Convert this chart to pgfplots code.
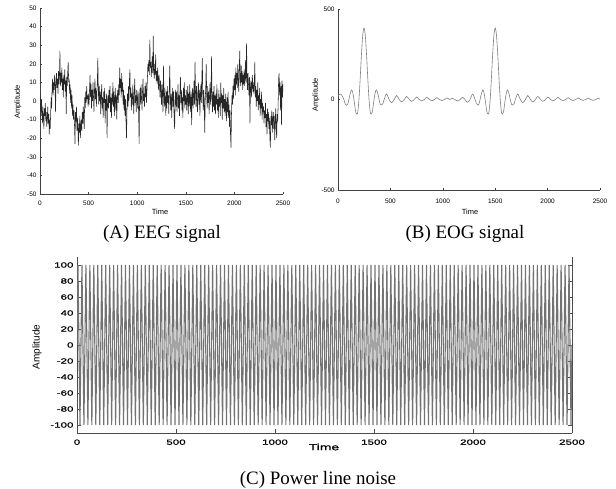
\documentclass[border=0pt]{standalone}
\usepackage{fontspec}
\setmainfont{Liberation Sans}
\newfontfamily\capfont{Liberation Serif}
\newfontfamily\widefont[FakeStretch=1.55,FakeBold=0.8]{Liberation Sans}
\usepackage{pgfplots}
\pgfplotsset{compat=1.18}
\pgfplotsset{
  smallax/.style={
    scale only axis, anchor=south west,
    xmin=0, xmax=2500, xtick={0,500,...,2500},
    axis x line*=bottom, axis y line*=left,
    axis line style={black!75, line width=0.5bp, -},
    tick style={black!75, line width=0.4bp},
    major tick length=2bp, tick align=inside,
    tick label style={font=\fontsize{6.5}{7}\selectfont},
    /pgf/number format/assume math mode=true,
    /pgf/number format/set thousands separator={},
  }
}
\begin{document}
\begin{tikzpicture}
\useasboundingbox (0,0) rectangle (616bp,-489bp);
% (A) EEG
\begin{axis}[smallax, at={(40bp,-194bp)}, width=243bp, height=186bp,
  ymin=-50, ymax=50, ytick={-50,-40,...,50},
  xticklabel style={yshift=-3bp}]
\addplot[black!85, line width=0.55bp] coordinates {
(0,4)(5,-2)(10,-8)(15,1)(20,-5)(25,-12)(30,-3)(35,-9)(40,-15)(45,-4)(50,-8)(55,-1)(60,-11)(65,-6)(70,-14)(75,-9)(80,-3)(85,-12)(90,-7)(95,-18)
(100,-10)(105,-15)(110,-6)(115,2)(120,-4)(125,8)(130,12)(135,3)(140,10)(145,6)(150,14)(155,8)(160,-6)(165,11)(170,15)(175,7)(180,12)(185,4)(190,16)(195,9)
(200,13)(205,27)(210,8)(215,15)(220,10)(225,18)(230,6)(235,12)(240,2)(245,14)(250,9)(255,17)(260,5)(265,11)(270,-7)(275,13)(280,8)(285,15)(290,21)(295,10)
(300,12)(305,4)(310,9)(315,-1)(320,6)(325,-4)(330,3)(335,-8)(340,-2)(345,-10)(350,-5)(355,-13)(360,-23)(365,-6)(370,-11)(375,-3)(380,-16)(385,-9)(390,-14)(395,-24)
(400,-12)(405,-17)(410,-8)(415,-20)(420,-14)(425,-10)(430,-16)(435,-6)(440,-12)(445,-3)(450,-9)(455,-15)(460,2)(465,-4)(470,5)(475,-1)(480,8)(485,1)(490,3)(495,-3)
(500,4)(505,-2)(510,7)(515,14)(520,2)(525,9)(530,-4)(535,6)(540,0)(545,10)(550,3)(555,-6)(560,5)(565,12)(570,1)(575,7)(580,-3)(585,4)(590,10)(595,23)
(600,6)(605,-2)(610,8)(615,0)(620,5)(625,-7)(630,3)(635,9)(640,-4)(645,2)(650,-9)(655,5)(660,-1)(665,7)(670,-12)(675,1)(680,-5)(685,4)(690,-20)(695,0)
(700,3)(705,-4)(710,6)(715,-1)(720,8)(725,-6)(730,2)(735,-9)(740,4)(745,-2)(750,10)(755,-3)(760,5)(765,-8)(770,1)(775,7)(780,-5)(785,3)(790,-10)(795,2)
(800,6)(805,-1)(810,9)(815,3)(820,18)(825,7)(830,12)(835,2)(840,15)(845,5)(850,10)(855,-2)(860,6)(865,-5)(870,3)(875,-8)(880,1)(885,-11)(890,-20)(895,-4)
(900,4)(905,-3)(910,8)(915,0)(920,11)(925,17)(930,2)(935,7)(940,-5)(945,4)(950,-2)(955,9)(960,1)(965,-7)(970,5)(975,12)(980,-1)(985,3)(990,-6)(995,6)
(1000,2)(1005,-4)(1010,5)(1015,-8)(1020,-23)(1025,3)(1030,7)(1035,-2)(1040,9)(1045,1)(1050,-5)(1055,6)(1060,12)(1065,0)(1070,4)(1075,-3)(1080,8)(1085,2)(1090,10)(1095,-1)
(1100,5)(1105,12)(1110,20)(1115,16)(1120,22)(1125,14)(1130,33)(1135,18)(1140,21)(1145,13)(1150,19)(1155,24)(1160,15)(1165,35)(1170,17)(1175,12)(1180,20)(1185,14)(1190,25)(1195,11)
(1200,16)(1205,9)(1210,18)(1215,12)(1220,6)(1225,14)(1230,8)(1235,2)(1240,11)(1245,5)(1250,-2)(1255,9)(1260,3)(1265,-6)(1270,19)(1275,4)(1280,-3)(1285,7)(1290,0)(1295,-8)
(1300,5)(1305,-4)(1310,8)(1315,-1)(1320,3)(1325,-7)(1330,6)(1335,19)(1340,2)(1345,-5)(1350,4)(1355,-9)(1360,1)(1365,7)(1370,-3)(1375,5)(1380,-10)(1385,-15)(1390,-2)(1395,6)
(1400,-3)(1405,5)(1410,-6)(1415,2)(1420,9)(1425,-4)(1430,3)(1435,-8)(1440,4)(1445,13)(1450,-1)(1455,6)(1460,-5)(1465,2)(1470,-9)(1475,7)(1480,0)(1485,10)(1490,-4)(1495,3)
(1500,-2)(1505,6)(1510,-5)(1515,1)(1520,8)(1525,-7)(1530,4)(1535,-3)(1540,9)(1545,0)(1550,-6)(1555,5)(1560,-13)(1565,2)(1570,7)(1575,-4)(1580,3)(1585,11)(1590,-2)(1595,21)
(1600,4)(1605,-3)(1610,8)(1615,1)(1620,-6)(1625,5)(1630,10)(1635,-2)(1640,6)(1645,-8)(1650,3)(1655,9)(1660,-1)(1665,12)(1670,23)(1675,2)(1680,-5)(1685,6)(1690,-3)(1695,-17)
(1700,1)(1705,7)(1710,20)(1715,3)(1720,-4)(1725,8)(1730,-1)(1735,5)(1740,-7)(1745,4)(1750,10)(1755,-2)(1760,6)(1765,24)(1770,0)(1775,-6)(1780,5)(1785,-3)(1790,8)(1795,-5)
(1800,3)(1805,-7)(1810,4)(1815,-2)(1820,9)(1825,-5)(1830,1)(1835,-9)(1840,6)(1845,-3)(1850,2)(1855,-8)(1860,10)(1865,-1)(1870,4)(1875,-10)(1880,3)(1885,-4)(1890,7)(1895,-6)
(1900,1)(1905,-8)(1910,4)(1915,-3)(1920,-11)(1925,2)(1930,-6)(1935,5)(1940,-9)(1945,-2)(1950,-14)(1955,-5)(1960,-18)(1965,-25)(1970,-7)(1975,3)(1980,-2)(1985,8)(1990,1)(1995,12)
(2000,6)(2005,14)(2010,3)(2015,18)(2020,9)(2025,15)(2030,7)(2035,20)(2040,11)(2045,5)(2050,17)(2055,27)(2060,12)(2065,8)(2070,19)(2075,10)(2080,16)(2085,6)(2090,14)(2095,9)
(2100,17)(2105,8)(2110,13)(2115,22)(2120,10)(2125,31)(2130,12)(2135,6)(2140,15)(2145,9)(2150,3)(2155,13)(2160,-12)(2165,7)(2170,11)(2175,2)(2180,9)(2185,14)(2190,5)(2195,10)
(2200,4)(2205,9)(2210,21)(2215,2)(2220,8)(2225,-3)(2230,6)(2235,0)(2240,10)(2245,-5)(2250,3)(2255,-2)(2260,7)(2265,-8)(2270,1)(2275,-4)(2280,5)(2285,-10)(2290,-1)(2295,-6)
(2300,-3)(2305,-12)(2310,-5)(2315,-9)(2320,-1)(2325,-14)(2330,-7)(2335,-18)(2340,-4)(2345,-11)(2350,-6)(2355,-15)(2360,-9)(2365,-20)(2370,-25)(2375,-8)(2380,-13)(2385,-5)(2390,-17)(2395,-10)
(2400,-6)(2405,-15)(2410,-8)(2415,-21)(2420,-12)(2425,-4)(2430,-14)(2435,-20)(2440,-7)(2445,-11)(2450,-2)(2455,12)(2460,15)(2465,3)(2470,10)(2475,-5)(2480,8)(2485,-13)(2490,11)(2495,2)(2500,9)
};
\end{axis}
% (B) EOG
\begin{axis}[smallax, at={(338bp,-190bp)}, width=262bp, height=181bp,
  ymin=-500, ymax=500, ytick={-500,0,500},
  xticklabel style={yshift=-5bp}]
\addplot[black!50, line width=0.6bp, smooth] coordinates {
(0,20)(10,27)(22,30)(33,28)(45,15)(56,0)(68,-24)(80,-32)(92,-27)(104,0)(116,32)(128,52)(140,40)(152,0)(164,-51)(172,-75)(180,-80)(188,-71)(200,0)
(212,119)(224,251)(236,356)(248,395)(260,356)(272,251)(284,119)(296,0)(308,-71)(317,-80)(326,-71)(332,-51)(344,0)(356,40)(366,53)(380,32)(392,0)
(404,-27)(414,-30)(428,-24)(440,0)(463,30)(488,0)(511,-18)(536,0)(559,22)(584,0)(607,-13)(632,0)(655,17)(680,0)(703,-10)(728,0)(751,14)(776,0)
(799,-8)(824,0)(847,12)(872,0)(895,-7)(920,0)(943,10)(968,0)(991,-6)(1016,0)(1039,9)(1064,0)(1090,6)(1116,0)(1141,-9)(1165,0)(1189,12)(1212,0)
(1237,-16)(1260,0)(1285,30)(1308,0)(1322,-24)(1334,-30)(1344,-27)(1356,0)(1368,32)(1382,53)(1392,40)(1404,0)(1416,-51)(1424,-75)(1432,-80)(1440,-71)(1452,0)
(1464,119)(1476,251)(1488,356)(1500,395)(1512,356)(1524,251)(1536,119)(1548,0)(1560,-71)(1569,-80)(1578,-71)(1584,-51)(1596,0)(1608,40)(1618,53)(1632,32)(1644,0)
(1656,-27)(1666,-30)(1680,-24)(1692,0)(1715,30)(1740,0)(1763,-18)(1788,0)(1811,22)(1836,0)(1859,-13)(1884,0)(1907,17)(1932,0)(1955,-10)(1980,0)
(2003,14)(2028,0)(2051,-8)(2076,0)(2099,12)(2124,0)(2147,-7)(2172,0)(2195,10)(2220,0)(2243,-6)(2268,0)(2291,9)(2316,0)(2339,-5)(2364,0)(2387,8)(2412,0)
(2435,-5)(2460,0)(2483,7)(2500,2)
};
\end{axis}
% (C) Power line noise
\begin{axis}[scale only axis, anchor=south west, at={(77bp,-433bp)}, width=495bp, height=176bp,
  xmin=0, xmax=2500, xtick={0,500,...,2500},
  ymin=-110, ymax=110, ytick={-100,-80,...,100},
  axis x line*=bottom, axis y line*=box,
  axis line style={black!70, line width=0.8bp, -},
  tick style={black!70, line width=0.5bp},
  major tick length=4bp, tick align=inside,
  tick label style={font=\widefont\fontsize{7.5}{8}\selectfont},
  xticklabel style={yshift=-3bp},
  /pgf/number format/assume math mode=true,
  /pgf/number format/set thousands separator={}]
\addplot[black!55, line width=1.1bp] coordinates {
(0,0)
(5,100)(15,-100)(25,100)(35,-100)(45,100)(55,-100)(65,100)(75,-100)(85,100)(95,-100)
(105,100)(115,-100)(125,100)(135,-100)(145,100)(155,-100)(165,100)(175,-100)(185,100)(195,-100)
(205,100)(215,-100)(225,100)(235,-100)(245,100)(255,-100)(265,100)(275,-100)(285,100)(295,-100)
(305,100)(315,-100)(325,100)(335,-100)(345,100)(355,-100)(365,100)(375,-100)(385,100)(395,-100)
(405,100)(415,-100)(425,100)(435,-100)(445,100)(455,-100)(465,100)(475,-100)(485,100)(495,-100)
(505,100)(515,-100)(525,100)(535,-100)(545,100)(555,-100)(565,100)(575,-100)(585,100)(595,-100)
(605,100)(615,-100)(625,100)(635,-100)(645,100)(655,-100)(665,100)(675,-100)(685,100)(695,-100)
(705,100)(715,-100)(725,100)(735,-100)(745,100)(755,-100)(765,100)(775,-100)(785,100)(795,-100)
(805,100)(815,-100)(825,100)(835,-100)(845,100)(855,-100)(865,100)(875,-100)(885,100)(895,-100)
(905,100)(915,-100)(925,100)(935,-100)(945,100)(955,-100)(965,100)(975,-100)(985,100)(995,-100)
(1005,100)(1015,-100)(1025,100)(1035,-100)(1045,100)(1055,-100)(1065,100)(1075,-100)(1085,100)(1095,-100)
(1105,100)(1115,-100)(1125,100)(1135,-100)(1145,100)(1155,-100)(1165,100)(1175,-100)(1185,100)(1195,-100)
(1205,100)(1215,-100)(1225,100)(1235,-100)(1245,100)(1255,-100)(1265,100)(1275,-100)(1285,100)(1295,-100)
(1305,100)(1315,-100)(1325,100)(1335,-100)(1345,100)(1355,-100)(1365,100)(1375,-100)(1385,100)(1395,-100)
(1405,100)(1415,-100)(1425,100)(1435,-100)(1445,100)(1455,-100)(1465,100)(1475,-100)(1485,100)(1495,-100)
(1505,100)(1515,-100)(1525,100)(1535,-100)(1545,100)(1555,-100)(1565,100)(1575,-100)(1585,100)(1595,-100)
(1605,100)(1615,-100)(1625,100)(1635,-100)(1645,100)(1655,-100)(1665,100)(1675,-100)(1685,100)(1695,-100)
(1705,100)(1715,-100)(1725,100)(1735,-100)(1745,100)(1755,-100)(1765,100)(1775,-100)(1785,100)(1795,-100)
(1805,100)(1815,-100)(1825,100)(1835,-100)(1845,100)(1855,-100)(1865,100)(1875,-100)(1885,100)(1895,-100)
(1905,100)(1915,-100)(1925,100)(1935,-100)(1945,100)(1955,-100)(1965,100)(1975,-100)(1985,100)(1995,-100)
(2005,100)(2015,-100)(2025,100)(2035,-100)(2045,100)(2055,-100)(2065,100)(2075,-100)(2085,100)(2095,-100)
(2105,100)(2115,-100)(2125,100)(2135,-100)(2145,100)(2155,-100)(2165,100)(2175,-100)(2185,100)(2195,-100)
(2205,100)(2215,-100)(2225,100)(2235,-100)(2245,100)(2255,-100)(2265,100)(2275,-100)(2285,100)(2295,-100)
(2305,100)(2315,-100)(2325,100)(2335,-100)(2345,100)(2355,-100)(2365,100)(2375,-100)(2385,100)(2395,-100)
(2405,100)(2415,-100)(2425,100)(2435,-100)(2445,100)(2455,-100)(2465,100)(2475,-100)(2485,100)(2495,-100)
(2500,0)
};
\end{axis}
% axis titles
\node[font=\fontsize{7.5}{8}\selectfont] at (160bp,-212bp) {Time};
\node[font=\fontsize{7.5}{8}\selectfont, rotate=90] at (18bp,-102bp) {Amplitude};
\node[font=\fontsize{7.5}{8}\selectfont] at (470bp,-212bp) {Time};
\node[font=\fontsize{7.5}{8}\selectfont, rotate=90] at (316bp,-95bp) {Amplitude};
\node[font=\widefont\fontsize{9}{10}\selectfont] at (324bp,-447bp) {Time};
\node[font=\fontsize{10}{11}\selectfont, rotate=90] at (37bp,-347bp) {Amplitude};
% captions
\node[font=\capfont\fontsize{19}{22}\selectfont] at (162bp,-234bp) {(A) EEG signal};
\node[font=\capfont\fontsize{19}{22}\selectfont] at (465bp,-234bp) {(B) EOG signal};
\node[font=\capfont\fontsize{19}{22}\selectfont] at (318bp,-480bp) {(C) Power line noise};
\end{tikzpicture}
\end{document}
